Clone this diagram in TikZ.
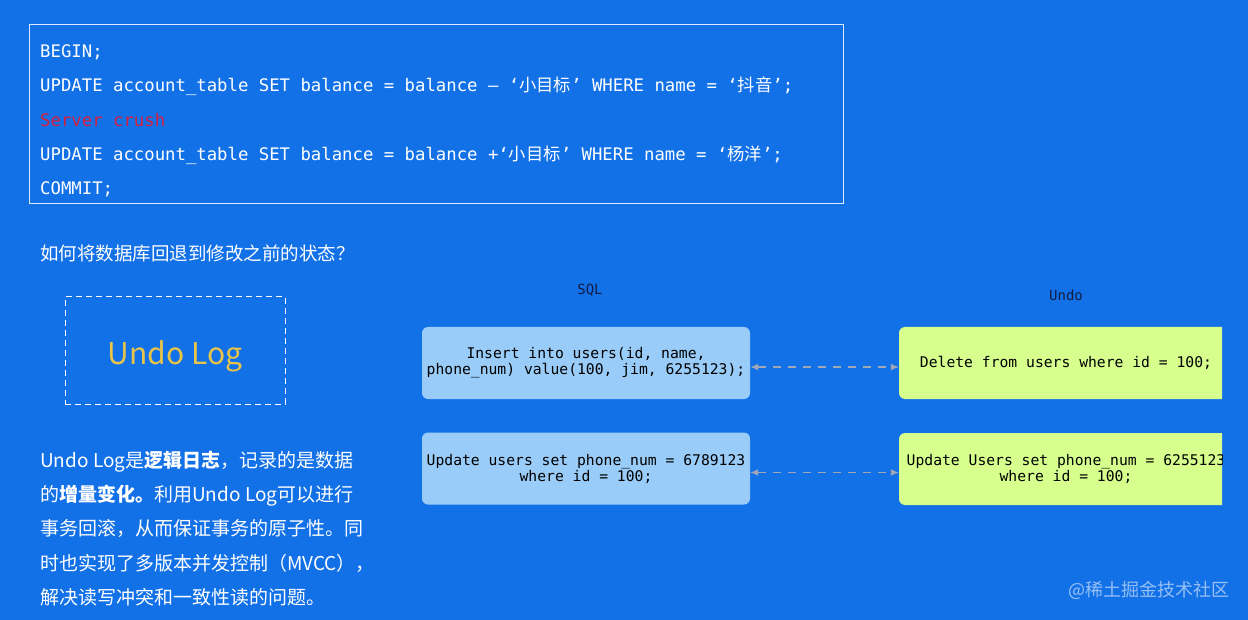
\documentclass[tikz,border=0pt]{standalone}
\usepackage{fontspec}
\setmainfont{Noto Sans CJK SC}
\newfontfamily\cjk{Noto Sans CJK SC}
\setmonofont{DejaVu Sans Mono}
\usetikzlibrary{arrows.meta}
\definecolor{bgblue}{RGB}{19,113,232}
\definecolor{sqlblue}{RGB}{153,204,248}
\definecolor{undogreen}{RGB}{214,255,142}
\definecolor{logyellow}{RGB}{232,196,72}
\definecolor{crushred}{RGB}{214,30,60}
\definecolor{labelnavy}{RGB}{16,30,70}
\definecolor{arrgray}{RGB}{160,168,184}
\tikzset{
  codeline/.style={anchor=west, inner sep=0pt, text=white, font=\ttfamily\fontsize{17.3}{20}\selectfont},
  codebox/.style={draw=white!85!bgblue, line width=1pt, minimum width=814pt, minimum height=179pt, inner sep=0pt},
  cjktext/.style={anchor=west, inner sep=0pt, text=white},
  sqlbox/.style={fill=sqlblue, rounded corners=6pt, minimum width=328pt, minimum height=72pt, inner sep=0pt, align=center, text=black, font=\ttfamily\fontsize{14.7}{16}\selectfont},
  undobox/.style={fill=undogreen, rounded corners=6pt, minimum width=334pt, minimum height=72pt, inner sep=0pt, align=center, text=black, font=\ttfamily\fontsize{14.7}{16}\selectfont},
  collabel/.style={text=labelnavy, inner sep=0pt, font=\ttfamily\fontsize{14}{16}\selectfont},
  dasharrow/.style={arrgray, line width=1.3pt, dash pattern=on 8pt off 7pt, {Latex[length=8pt,width=7pt]}-{Latex[length=8pt,width=7pt]}},
}
\begin{document}
\begin{tikzpicture}[x=1pt,y=-1pt]
\fill[bgblue] (0,0) rectangle (1248,620);
\useasboundingbox (0,0) rectangle (1248,620);

% code box
\node[codebox] (code) at (436,114.5) {};
\node[codeline] (l1) at (40,52.5) {BEGIN;};
\node[codeline] (l2) at (40,86.5) {UPDATE account\_table SET balance = balance – ‘{\cjk 小目标}’ WHERE name = ‘{\cjk 抖音}’;};
\node[codeline, text=crushred] (l3) at (40,120.5) {Server crush};
\node[codeline] (l4) at (40,155.5) {UPDATE account\_table SET balance = balance +‘{\cjk 小目标}’ WHERE name = ‘{\cjk 杨洋}’;};
\node[codeline] (l5) at (40,189.5) {COMMIT;};

% question
\node[cjktext, font=\fontsize{18.5}{22}\selectfont] (q) at (40,253) {如何将数据库回退到修改之前的状态？};

% Undo Log box
\node[draw=white, dash pattern=on 6pt off 4pt, line width=1pt, minimum width=220pt, minimum height=107pt, inner sep=0pt] (ulog) at (175,350.5) {};
\node[inner sep=0pt, text=logyellow, font=\fontsize{30}{34}\selectfont] (ulogtxt) at (175,356) {Undo Log};

% paragraph
\node[cjktext, font=\fontsize{19}{34.2}\selectfont, align=left, anchor=north west] (para) at (40,451) {Undo Log是\textbf{逻辑日志}，记录的是数据\\的\textbf{增量变化。}利用Undo Log可以进行\\事务回滚，从而保证事务的原子性。同\\时也实现了多版本并发控制（MVCC），\\解决读写冲突和一致性读的问题。};

% column labels
\node[collabel] (sqllab) at (590,290) {SQL};
\node[collabel] (undolab) at (1066,295) {Undo};

% SQL boxes
\node[sqlbox] (sql1) at (586,363) {Insert into users(id, name,\\phone\_num) value(100, jim, 6255123);};
\node[sqlbox] (sql2) at (586,468.5) {Update users set phone\_num = 6789123\\where id = 100;};

% Undo boxes (clipped at right edge)
\begin{scope}
\clip (0,0) rectangle (1222,620);
\node[undobox] (undo1) at (1066,363) {Delete from users where id = 100;};
\node[undobox] (undo2) at (1066,469) {Update Users set phone\_num = 6255123\\where id = 100;};
\end{scope}

% arrows
\draw[dasharrow] ([yshift=-4pt]sql1.east) -- ([yshift=-4pt]undo1.west);
\draw[dasharrow] ([yshift=-4pt]sql2.east) -- ([yshift=-3.5pt]undo2.west);

% watermark
\node[cjktext, text=white!55!bgblue, font=\fontsize{18}{20}\selectfont] (wm) at (1068,590) {@稀土掘金技术社区};
\end{tikzpicture}
\end{document}
